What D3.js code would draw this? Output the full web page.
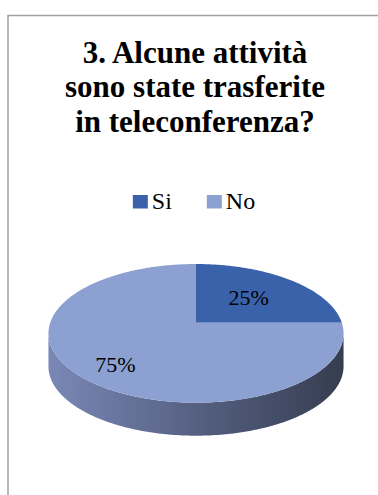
<!DOCTYPE html>
<html>
<head>
<meta charset="utf-8">
<script src="https://cdn.jsdelivr.net/npm/d3@7"></script>
<style>
  html, body { margin: 0; padding: 0; background: #fff; }
  svg { display: block; }
  text { font-family: "Liberation Serif", "Times New Roman", serif; }
</style>
</head>
<body>
<svg id="chart" width="378" height="495"></svg>
<script>
// Survey answers
const titleLines = ["3. Alcune attività", "sono state trasferite", "in teleconferenza?"];
const categories = ["Si", "No"];
const values = [25, 75];
const valueLabels = ["25%", "75%"];
const sliceColors = ["#3a62ab", "#8ca0d1"];

const W = 378, H = 495;
const svg = d3.select("#chart");

// Chart frame (left and top edges visible)
svg.append("path")
  .attr("d", `M8,${H} V15.5 H${W}`)
  .attr("fill", "none")
  .attr("stroke", "#a0a0a0")
  .attr("stroke-width", 1.5);

// Title, one text element per line
svg.append("g")
  .attr("text-anchor", "middle")
  .selectAll("text")
  .data(titleLines)
  .join("text")
  .attr("x", 195)
  .attr("y", (d, i) => 63 + i * 34.3)
  .style("font-weight", "bold")
  .style("font-size", "31px")
  .attr("fill", "#000")
  .text(d => d);

// Legend, centred under the title
const legend = svg.append("g").style("font-size", "24px");
const sw = 15, swGap = 4, itemGap = 35;
const items = legend.selectAll("g").data(categories).join("g");
items.append("rect")
  .attr("width", sw).attr("height", 13.5)
  .attr("y", 195)
  .attr("fill", (d, i) => sliceColors[i]);
items.append("text")
  .attr("x", sw + swGap).attr("y", 209)
  .text(d => d);
let lx = 0;
const offsets = [];
items.each(function () {
  offsets.push(lx);
  lx += sw + swGap + d3.select(this).select("text").node().getComputedTextLength() + itemGap;
});
const legendWidth = lx - itemGap;
items.attr("transform", (d, i) => `translate(${194 - legendWidth / 2 + offsets[i]},0)`);

// 3-D pie: the unit disc is drawn in perspective
const cx = 196, cy = 322.7;    // projected pie centre
const A = 145.8, B = 67.7;     // horizontal / vertical scale
const k = 0.1536;              // perspective strength
const depth = 33;              // thickness of the pie

function project(a, r = 1, dy = 0) {
  // a: clockwise from 12 o'clock; v > 0 is toward the viewer
  const u = r * Math.sin(a), v = -r * Math.cos(a);
  const w = 1 - k * v;
  return [cx + A * u / w, cy + B * v / w + dy];
}
function arcPoints(a0, a1, dy = 0) {
  const n = Math.max(2, Math.ceil(Math.abs(a1 - a0) / 0.01));
  return d3.range(n + 1).map(i => project(a0 + (a1 - a0) * i / n, 1, dy));
}

const arcs = d3.pie().sort(null).startAngle(0).endAngle(2 * Math.PI)(values);
const line = d3.line();

// Side wall gradient (lit from the left)
const defs = svg.append("defs");
const visA0 = Math.acos(-k), visA1 = 2 * Math.PI - Math.acos(-k);
const xR = project(visA0)[0], xL = project(visA1)[0];
arcs.forEach((d, i) => {
  const base = d3.rgb(sliceColors[i]);
  const shade = f => d3.rgb(base.r * f[0], base.g * f[1], base.b * f[2]).formatHex();
  const g = defs.append("linearGradient")
    .attr("id", "side" + i)
    .attr("gradientUnits", "userSpaceOnUse")
    .attr("x1", xL).attr("x2", xR).attr("y1", 0).attr("y2", 0);
  g.append("stop").attr("offset", 0).attr("stop-color", shade([0.87, 0.85, 0.87]));
  g.append("stop").attr("offset", 0.5).attr("stop-color", shade([0.61, 0.6, 0.62]));
  g.append("stop").attr("offset", 1).attr("stop-color", shade([0.38, 0.38, 0.38]));
});

// Side walls: only the front part of each slice's rim is visible
const pie = svg.append("g");
arcs.forEach((d, i) => {
  const a0 = Math.max(d.startAngle, visA0), a1 = Math.min(d.endAngle, visA1);
  if (a1 <= a0) return;
  const top = arcPoints(a0, a1);
  const bottom = arcPoints(a1, a0, depth);
  pie.append("path")
    .attr("d", line(top.concat(bottom)) + "Z")
    .attr("fill", `url(#side${i})`);
});

// Top faces
arcs.forEach((d, i) => {
  const pts = [project(0, 0)].concat(arcPoints(d.startAngle, d.endAngle));
  pie.append("path")
    .attr("d", line(pts) + "Z")
    .attr("fill", sliceColors[i]);
});

// Value labels; larger slices push their label further out,
// nearer labels sit a little lower on the tilted face
svg.append("g")
  .style("font-size", "22px")
  .attr("text-anchor", "middle")
  .selectAll("text")
  .data(arcs)
  .join("text")
  .attr("transform", d => {
    const mid = (d.startAngle + d.endAngle) / 2;
    const r = 0.45 + 0.36 * (d.endAngle - d.startAngle) / (2 * Math.PI);
    const [x, y] = project(mid, r);
    const v = -r * Math.cos(mid);
    return `translate(${x},${y + 9 + 6 * v})`;
  })
  .text((d, i) => valueLabels[i]);
</script>
</body>
</html>
